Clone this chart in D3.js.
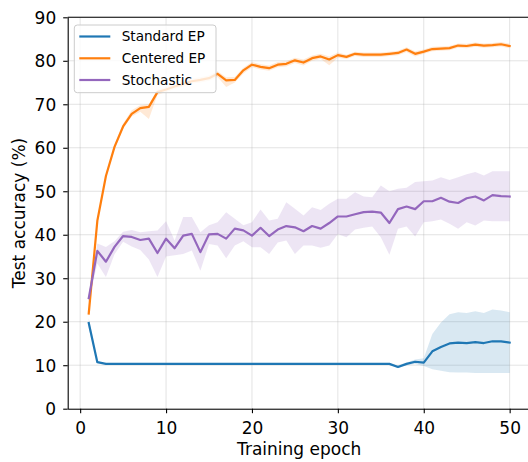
<!DOCTYPE html>
<html>
<head>
<meta charset="utf-8">
<script src="https://cdn.jsdelivr.net/npm/d3@7"></script>
<style>
  html, body { margin: 0; padding: 0; background: #fff; }
  svg { display: block; font-family: "DejaVu Sans", sans-serif; }
</style>
</head>
<body>
<svg id="chart" width="528" height="462"></svg>
<script>
// Test accuracy per training epoch, mean with min/max band across runs
const epochs = [1,2,3,4,5,6,7,8,9,10,11,12,13,14,15,16,17,18,19,20,21,22,23,24,25,
                26,27,28,29,30,31,32,33,34,35,36,37,38,39,40,41,42,43,44,45,46,47,48,49,50];

const seriesNames = ["Standard EP", "Centered EP", "Stochastic"];
const seriesColors = ["#1f77b4", "#ff7f0e", "#9467bd"];

const standardMean = [19.7,10.7,10.3,10.3,10.3,10.3,10.3,10.3,10.3,10.3,10.3,10.3,10.3,10.3,10.3,10.3,10.3,10.3,10.3,10.3,10.3,10.3,10.3,10.3,10.3,
                      10.3,10.3,10.3,10.3,10.3,10.3,10.3,10.3,10.3,10.3,10.3,9.6,10.3,10.8,10.6,13.2,14.2,15.0,15.2,15.1,15.3,15.1,15.5,15.5,15.2];
const standardLow  = [18.6,10.5,10.3,10.3,10.3,10.3,10.3,10.3,10.3,10.3,10.3,10.3,10.3,10.3,10.3,10.3,10.3,10.3,10.3,10.3,10.3,10.3,10.3,10.3,10.3,
                      10.3,10.3,10.3,10.3,10.3,10.3,10.3,10.3,10.3,10.3,10.3,9.3,10.0,10.3,9.8,9.1,8.7,8.4,8.3,8.3,8.2,8.2,8.2,8.2,8.2];
const standardHigh = [20.8,11.0,10.3,10.3,10.3,10.3,10.3,10.3,10.3,10.3,10.3,10.3,10.3,10.3,10.3,10.3,10.3,10.3,10.3,10.3,10.3,10.3,10.3,10.3,10.3,
                      10.3,10.3,10.3,10.3,10.3,10.3,10.3,10.3,10.3,10.3,10.3,10.0,10.6,11.3,11.6,17.2,19.8,21.7,22.2,22.0,22.4,22.0,22.8,22.6,22.2];

const centeredMean = [21.9,43.2,53.5,60.2,64.9,67.8,69.1,69.4,72.8,73.4,74.1,74.7,75.3,75.6,76.0,77.0,75.5,75.6,77.8,79.1,78.6,78.3,79.1,79.3,80.1,
                      79.6,80.6,81.0,80.3,81.3,80.9,81.6,81.4,81.4,81.4,81.6,81.8,82.6,81.6,82.1,82.7,82.8,82.9,83.5,83.4,83.7,83.5,83.6,83.8,83.4];
const centeredLow  = [21.2,42.5,53.0,59.7,64.4,67.2,68.3,66.6,72.2,72.8,73.5,74.1,74.7,75.0,75.4,76.3,74.0,75.0,77.1,78.5,78.0,77.7,78.5,78.7,79.5,
                      78.9,80.0,80.4,79.0,80.7,80.4,81.1,80.9,80.9,80.9,81.1,81.3,82.0,81.0,81.6,82.2,82.3,82.4,83.0,82.9,83.2,83.0,83.1,83.3,82.9];
const centeredHigh = [22.6,43.9,54.0,60.7,65.5,68.6,69.8,70.0,73.4,74.0,74.7,75.3,75.9,76.2,76.6,77.6,76.2,76.3,78.4,79.7,79.2,78.9,79.7,79.9,80.7,
                      80.3,81.2,81.6,81.0,81.9,81.4,82.1,81.9,81.9,81.9,82.1,82.3,83.1,82.2,82.6,83.2,83.3,83.4,84.0,83.9,84.2,84.0,84.1,84.3,83.9];

const stochasticMean = [25.4,36.3,33.8,37.2,39.7,39.5,38.8,39.1,35.8,39.1,36.9,39.8,40.2,36.0,40.1,40.2,39.1,41.4,41.0,39.8,41.6,39.7,41.2,42.0,41.7,
                        40.8,42.0,41.4,42.7,44.2,44.2,44.7,45.2,45.3,45.1,42.7,45.9,46.5,45.9,47.7,47.7,48.5,47.6,47.3,48.4,48.8,47.9,49.1,48.9,48.8];
const stochasticLow  = [24.6,33.4,30.3,35.5,38.4,37.3,36.5,34.3,30.3,35.0,35.3,35.6,36.4,31.7,37.9,37.5,34.6,37.5,38.5,37.1,37.1,35.6,38.2,38.7,35.6,
                        37.5,37.5,37.0,37.5,40.2,39.4,41.2,41.6,41.9,39.4,35.4,41.4,41.9,39.6,42.9,43.1,43.5,42.5,41.4,42.9,42.1,43.3,43.1,43.1,43.1];
const stochasticHigh = [26.2,38.0,37.2,38.5,40.7,41.1,40.6,40.8,41.0,43.1,38.7,44.1,44.1,40.6,42.2,42.9,45.2,43.7,42.2,42.9,45.8,43.3,43.7,47.5,46.0,
                        44.4,46.3,45.7,47.1,48.3,48.3,49.8,48.8,48.6,51.3,50.0,50.6,50.8,52.1,52.3,52.5,53.2,52.6,53.2,53.9,54.4,53.6,54.6,54.6,54.6];

const xTicks = [0, 10, 20, 30, 40, 50];
const yTicks = [0, 10, 20, 30, 40, 50, 60, 70, 80, 90];
const xLabel = "Training epoch";
const yLabel = "Test accuracy (%)";

const series = [
  { name: seriesNames[0], color: seriesColors[0], mean: standardMean,   low: standardLow,   high: standardHigh },
  { name: seriesNames[1], color: seriesColors[1], mean: centeredMean,   low: centeredLow,   high: centeredHigh },
  { name: seriesNames[2], color: seriesColors[2], mean: stochasticMean, low: stochasticLow, high: stochasticHigh }
];

const svg = d3.select("#chart");
const plotLeft = 67.7, plotRight = 530.7, plotTop = 17.3, plotBottom = 408.7;

const x = d3.scaleLinear().domain([-1.45, 52.45]).range([plotLeft, plotRight]);
const y = d3.scaleLinear().domain([0, 90]).range([plotBottom, plotTop]);

const plot = svg.append("g");

// grid
plot.append("g").selectAll("line").data(xTicks).join("line")
  .attr("x1", d => x(d)).attr("x2", d => x(d))
  .attr("y1", plotTop).attr("y2", plotBottom)
  .attr("stroke", "#b0b0b0").attr("stroke-opacity", 0.35).attr("stroke-width", 1);
plot.append("g").selectAll("line").data(yTicks).join("line")
  .attr("x1", plotLeft).attr("x2", plotRight)
  .attr("y1", d => y(d)).attr("y2", d => y(d))
  .attr("stroke", "#b0b0b0").attr("stroke-opacity", 0.35).attr("stroke-width", 1);

// bands and lines
const area = d3.area()
  .x((d, i) => x(epochs[i]))
  .y0(d => y(d[0]))
  .y1(d => y(d[1]));
const line = d3.line()
  .x((d, i) => x(epochs[i]))
  .y(d => y(d));

series.forEach(s => {
  const band = s.low.map((v, i) => [v, s.high[i]]);
  plot.append("path")
    .attr("d", area(band))
    .attr("fill", s.color)
    .attr("fill-opacity", 0.17)
    .attr("stroke", "none");
  plot.append("path")
    .attr("d", line(s.mean))
    .attr("fill", "none")
    .attr("stroke", s.color)
    .attr("stroke-width", 2.2)
    .attr("stroke-linejoin", "round")
    .attr("stroke-linecap", "square");
});

// axes
const xAxis = svg.append("g")
  .attr("transform", `translate(0,${plotBottom})`)
  .call(d3.axisBottom(x).tickValues(xTicks).tickSize(4.5).tickPadding(9).tickSizeOuter(0));
const yAxis = svg.append("g")
  .attr("transform", `translate(${plotLeft},0)`)
  .call(d3.axisLeft(y).tickValues(yTicks).tickSize(4.5).tickPadding(7).tickSizeOuter(0));

[xAxis, yAxis].forEach(g => {
  g.select(".domain").attr("stroke", "#000").attr("stroke-width", 1.1);
  g.selectAll(".tick line").attr("stroke", "#000").attr("stroke-width", 1.1);
  g.selectAll(".tick text")
    .attr("fill", "#000")
    .style("font-family", "'DejaVu Sans', sans-serif")
    .style("font-size", "17px");
});
yAxis.selectAll(".tick text").attr("dy", "0.36em");

// top and right spines
svg.append("line").attr("x1", plotLeft).attr("x2", plotRight).attr("y1", plotTop).attr("y2", plotTop)
  .attr("stroke", "#000").attr("stroke-width", 1.1);
svg.append("line").attr("x1", plotRight).attr("x2", plotRight).attr("y1", plotTop).attr("y2", plotBottom)
  .attr("stroke", "#000").attr("stroke-width", 1.1);

// axis labels
svg.append("text")
  .attr("x", (plotLeft + plotRight) / 2).attr("y", 455)
  .attr("text-anchor", "middle")
  .style("font-size", "17px")
  .text(xLabel);
svg.append("text")
  .attr("transform", `translate(24.5,${(plotTop + plotBottom) / 2}) rotate(-90)`)
  .attr("text-anchor", "middle")
  .style("font-size", "17px")
  .text(yLabel);

// legend
const legend = svg.append("g");
legend.append("rect")
  .attr("x", 74.3).attr("y", 25).attr("width", 141.7).attr("height", 67.7)
  .attr("rx", 3)
  .attr("fill", "#fff").attr("fill-opacity", 0.8)
  .attr("stroke", "#cccccc").attr("stroke-width", 1);
const rowY = [36.5, 58.3, 80];
series.forEach((s, i) => {
  legend.append("line")
    .attr("x1", 79.3).attr("x2", 110.3)
    .attr("y1", rowY[i]).attr("y2", rowY[i])
    .attr("stroke", s.color).attr("stroke-width", 2.2);
  legend.append("text")
    .attr("x", 121.7).attr("y", rowY[i])
    .attr("dy", "0.36em")
    .style("font-size", "13.6px")
    .text(s.name);
});
</script>
</body>
</html>
